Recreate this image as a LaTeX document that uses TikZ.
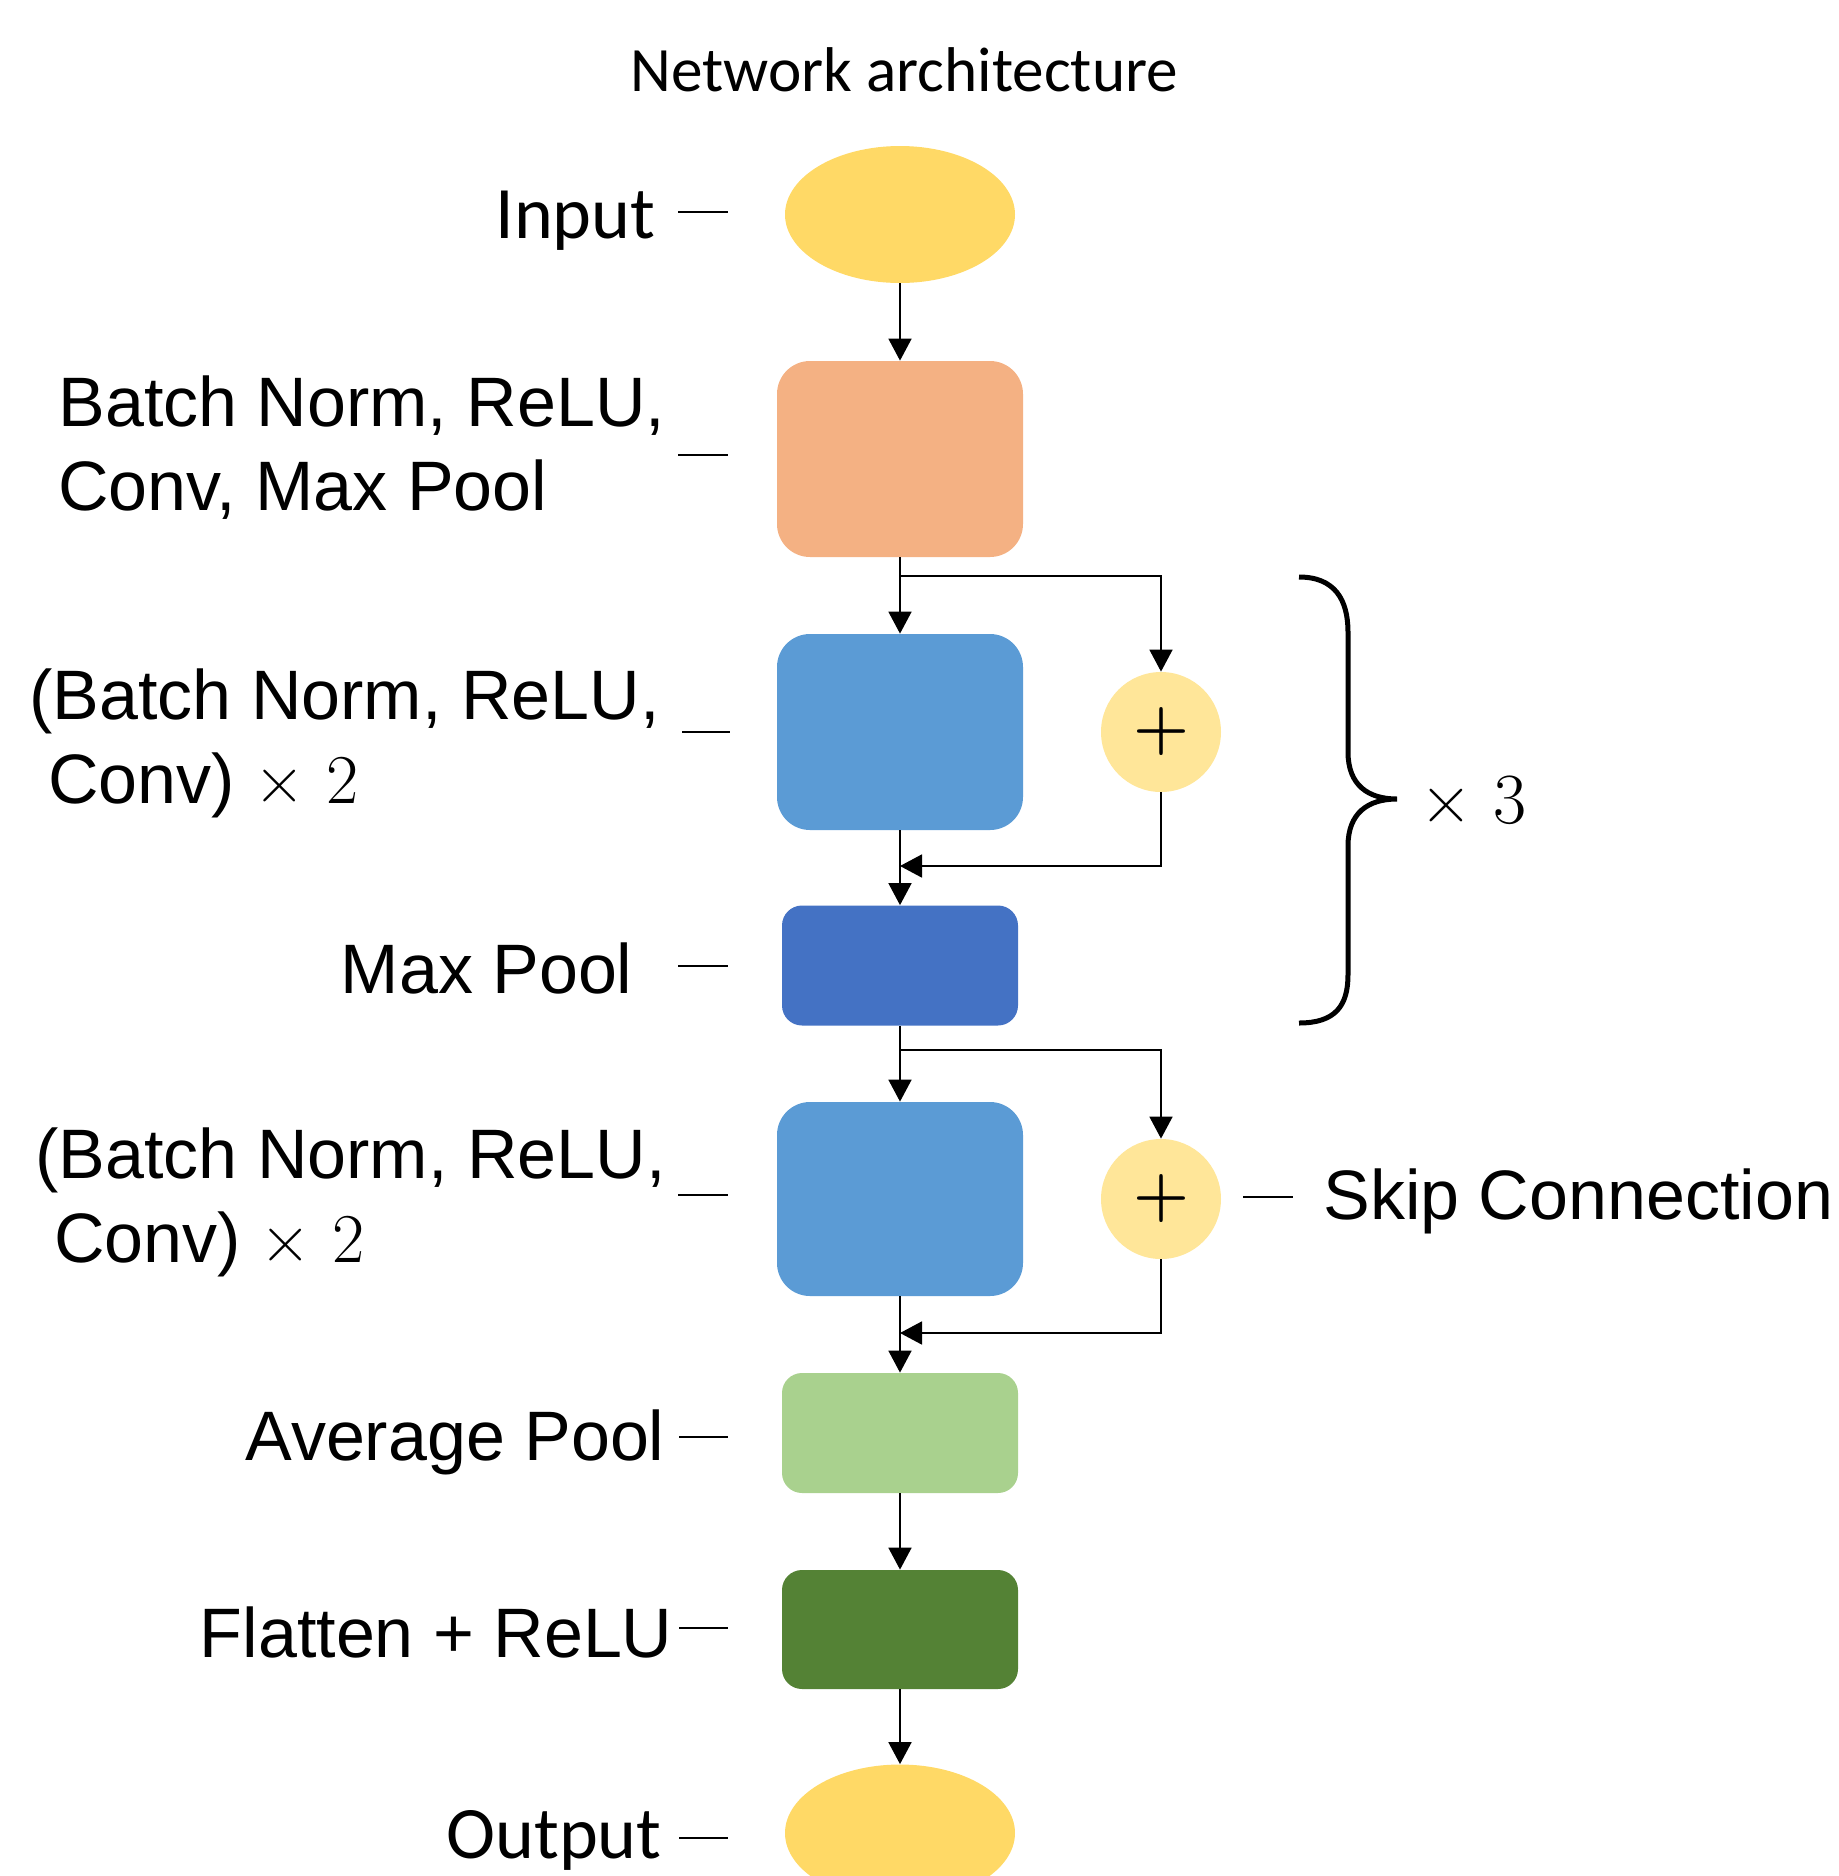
\documentclass[tikz,border=0pt]{standalone}
\usepackage{fontspec}
\usetikzlibrary{shapes.geometric,arrows.meta}
\newfontfamily\arialf{Liberation Sans}
\newfontfamily\calibf{Carlito}
\definecolor{cgold}{HTML}{FFD966}
\definecolor{clgold}{HTML}{FFE699}
\definecolor{corange}{HTML}{F4B183}
\definecolor{cblue}{HTML}{5B9BD5}
\definecolor{cdblue}{HTML}{4472C4}
\definecolor{clgreen}{HTML}{A9D18E}
\definecolor{cdgreen}{HTML}{548235}
\begin{document}
\begin{tikzpicture}[x=0.5pt,y=-0.5pt,
  lbl/.style={font=\arialf\fontsize{35}{42}\selectfont, inner sep=0pt},
  clbl/.style={font=\calibf\fontsize{37}{45}\selectfont, inner sep=0pt},
  ell/.style={ellipse, inner sep=0pt, minimum width=115pt, minimum height=68.5pt, fill=cgold},
  bigbox/.style={rectangle, inner sep=0pt, rounded corners=16.5pt, minimum width=123pt, minimum height=98pt},
  smallbox/.style={rectangle, inner sep=0pt, rounded corners=10pt, minimum width=118pt, minimum height=60pt},
  addnode/.style={circle, inner sep=0pt, minimum size=60pt, fill=clgold, font=\rmfamily\bfseries\fontsize{32}{32}\selectfont},
  arr/.style={-{Triangle[width=11.5pt,length=11pt]}, line width=0.9pt},
  lead/.style={line width=0.75pt}]
\useasboundingbox (0,0) rectangle (1839,1876);

% title
\node[font=\calibf\fontsize{31.6}{37}\selectfont, inner sep=0pt, anchor=base] (title) at (904,91) {Network architecture};

% blocks
\node[ell] (inp) at (900,214.5) {};
\node[bigbox, fill=corange] (bn1) at (900,459) {};
\node[bigbox, fill=cblue] (res1) at (900,732) {};
\node[addnode] (add1) at (1161,732) {+};
\node[smallbox, fill=cdblue] (mp) at (900,965.5) {};
\node[bigbox, minimum height=97pt, fill=cblue] (res2) at (900,1199) {};
\node[addnode] (add2) at (1161,1199) {+};
\node[smallbox, fill=clgreen] (ap) at (900,1433) {};
\node[smallbox, minimum height=59.5pt, fill=cdgreen] (fl) at (900,1629.5) {};
\node[ell] (outp) at (900,1833) {};

% junction coordinates
\coordinate (j1) at (900,576);
\coordinate (m1) at (900,866);
\coordinate (j2) at (900,1050);
\coordinate (m2) at (900,1333);

% connectors
\draw[arr] (inp.south) -- (bn1.north);
\draw[arr] (bn1.south) -- (res1.north);
\draw[arr] (j1) -| (add1.north);
\draw[arr] (res1.south) -- (mp.north);
\draw[arr] (add1.south) |- (m1);
\draw[arr] (mp.south) -- (res2.north);
\draw[arr] (j2) -| (add2.north);
\draw[arr] (res2.south) -- (ap.north);
\draw[arr] (add2.south) |- (m2);
\draw[arr] (ap.south) -- (fl.north);
\draw[arr] (fl.south) -- (outp.north);

% labels
\node[clbl, anchor=base west] (tinp) at (495,238) {Input};
\node[lbl, anchor=base west] (tbn1a) at (58,426) {Batch Norm, ReLU,};
\node[lbl, anchor=base west] (tbn1b) at (58,510) {Conv, Max Pool};
\node[lbl, anchor=base west] (tr1a) at (29,719) {(Batch Norm, ReLU,};
\node[lbl, anchor=base west] (tr1b) at (48,803) {Conv) {\rmfamily × 2}};
\node[lbl, anchor=base east] (tmp) at (633,993) {Max Pool};
\node[lbl, anchor=base west] (tr2a) at (35,1178) {(Batch Norm, ReLU,};
\node[lbl, anchor=base west] (tr2b) at (54,1262) {Conv) {\rmfamily × 2}};
\node[lbl, anchor=base east] (tap) at (665,1460) {Average Pool};
\node[lbl, anchor=base east] (tfl) at (673,1657) {Flatten + ReLU};
\node[clbl, anchor=base west] (toutp) at (446,1858) {Output};
\node[lbl, anchor=base west] (tskip) at (1323,1219) {Skip Connection};
\node[font=\rmfamily\fontsize{36}{36}\selectfont, inner sep=0pt, anchor=base west] (tx3) at (1420,823) {× 3};

% leader dashes
\coordinate (d1a) at (678,212);  \coordinate (d1b) at (728,212);
\coordinate (d2a) at (678,455);  \coordinate (d2b) at (728,455);
\coordinate (d3a) at (682,732);  \coordinate (d3b) at (730,732);
\coordinate (d4a) at (678,966);  \coordinate (d4b) at (728,966);
\coordinate (d5a) at (678,1195); \coordinate (d5b) at (728,1195);
\coordinate (d6a) at (679,1437); \coordinate (d6b) at (728,1437);
\coordinate (d7a) at (679,1628); \coordinate (d7b) at (728,1628);
\coordinate (d8a) at (679,1838); \coordinate (d8b) at (728,1838);
\coordinate (d9a) at (1243,1197); \coordinate (d9b) at (1293,1197);
\foreach \d in {1,...,9} {\draw[lead] (d\d a) -- (d\d b);}

% brace
\draw[line width=2.5pt] (1299,577) .. controls (1335,577) and (1348,600) .. (1348,632)
  -- (1348,752) .. controls (1348,785) and (1368,799) .. (1397,799)
  .. controls (1368,799) and (1348,813) .. (1348,846)
  -- (1348,975) .. controls (1348,1006) and (1335,1023) .. (1299,1023);
\end{tikzpicture}
\end{document}
